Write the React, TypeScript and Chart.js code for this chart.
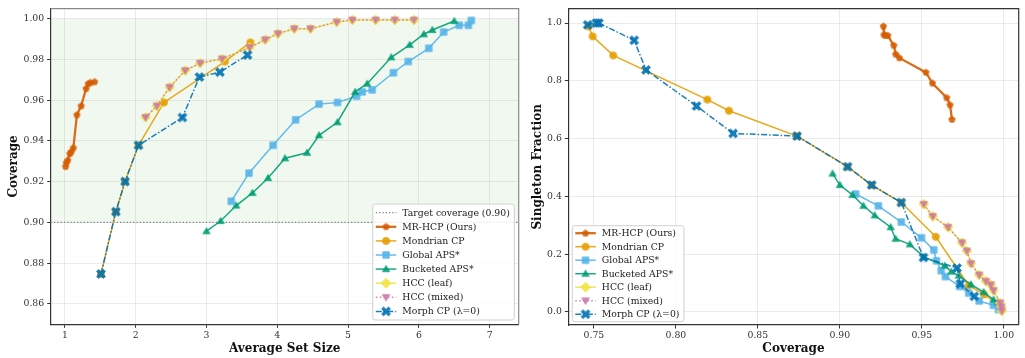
import React, { useEffect, useRef } from "react";
import { Chart, registerables } from "chart.js";
Chart.register(...registerables);

// ---------------- Left panel: Average set size vs coverage ----------------
const L_MRHCP_SIZE = [1.01, 1.02, 1.04, 1.07, 1.09, 1.12, 1.17, 1.23, 1.3, 1.33, 1.36, 1.42];
const L_MRHCP_COV = [0.9274, 0.9293, 0.9305, 0.9337, 0.9347, 0.9366, 0.9528, 0.9572, 0.9657, 0.9681, 0.9686, 0.969];

const L_MOND_SIZE = [1.51, 1.72, 1.85, 2.04, 2.4, 3.26, 3.62];
const L_MOND_COV = [0.8747, 0.9053, 0.9201, 0.9379, 0.9589, 0.979, 0.9884];

const L_GLOBAL_SIZE = [3.35, 3.6, 3.94, 4.26, 4.59, 4.85, 5.12, 5.2, 5.34, 5.64, 5.85, 6.14, 6.35, 6.57, 6.7, 6.74];
const L_GLOBAL_COV = [0.9104, 0.9242, 0.9379, 0.9504, 0.9581, 0.9589, 0.962, 0.9641, 0.9651, 0.9735, 0.979, 0.9855, 0.9935, 0.9968, 0.9968, 0.9992];

const L_BUCK_SIZE = [3.0, 3.2, 3.42, 3.65, 3.87, 4.11, 4.42, 4.59, 4.85, 5.1, 5.27, 5.61, 5.87, 6.07, 6.19, 6.5];
const L_BUCK_COV = [0.8957, 0.9007, 0.9083, 0.9145, 0.9218, 0.9315, 0.9342, 0.9428, 0.9492, 0.9641, 0.9681, 0.9811, 0.9872, 0.9924, 0.9945, 0.9989];

const L_HCCLEAF_SIZE = [2.14, 2.3, 2.48, 2.7, 2.91, 3.22, 3.61, 3.83, 4.01, 4.24, 4.47, 4.84, 5.06, 5.39, 5.66, 5.93];
const L_HCCLEAF_COV = [0.9516, 0.9572, 0.9664, 0.9746, 0.9782, 0.9803, 0.9859, 0.9897, 0.9927, 0.9951, 0.9951, 0.9984, 0.9994, 0.9994, 0.9994, 0.9994];

const L_HCCMIX_SIZE = [2.14, 2.3, 2.48, 2.7, 2.91, 3.22, 3.61, 3.83, 4.01, 4.24, 4.47, 4.84, 5.06, 5.39, 5.66, 5.93];
const L_HCCMIX_COV = [0.9516, 0.9572, 0.9664, 0.9746, 0.9782, 0.9803, 0.9859, 0.9897, 0.9927, 0.9951, 0.9951, 0.9984, 0.9994, 0.9994, 0.9994, 0.9994];

const L_MORPH_SIZE = [1.51, 1.72, 1.85, 2.04, 2.66, 2.9, 3.19, 3.58];
const L_MORPH_COV = [0.8747, 0.9053, 0.9201, 0.9379, 0.9515, 0.9714, 0.9738, 0.9822];

// ---------------- Right panel: coverage vs singleton fraction ----------------
const R_MRHCP_COV = [0.9266, 0.9269, 0.9279, 0.9293, 0.9329, 0.9341, 0.9363, 0.9525, 0.9565, 0.9652, 0.9672, 0.9684];
const R_MRHCP_SING = [0.9887, 0.959, 0.9566, 0.9566, 0.9224, 0.8917, 0.8793, 0.829, 0.7915, 0.7412, 0.7163, 0.666];

const R_MOND_COV = [0.7468, 0.7492, 0.7618, 0.8192, 0.8324, 0.8739, 0.9047, 0.9194, 0.9375, 0.9585, 0.9786, 0.988, 0.997];
const R_MOND_SING = [0.988, 0.9538, 0.8879, 0.735, 0.6964, 0.6085, 0.5026, 0.439, 0.3785, 0.26, 0.0913, 0.0605, 0.022];

const R_GLOBAL_COV = [0.9097, 0.9235, 0.9375, 0.9498, 0.9573, 0.9589, 0.9618, 0.9644, 0.9731, 0.9786, 0.985, 0.9937, 0.9968];
const R_GLOBAL_SING = [0.408, 0.367, 0.311, 0.2564, 0.2144, 0.1768, 0.1426, 0.122, 0.0879, 0.065, 0.0376, 0.0229, 0.008];

const R_BUCK_COV = [0.8956, 0.9, 0.9077, 0.9144, 0.9213, 0.931, 0.934, 0.9427, 0.9512, 0.964, 0.968, 0.9725, 0.98, 0.9877, 0.9937, 0.9965];
const R_BUCK_SING = [0.4786, 0.439, 0.4048, 0.3672, 0.334, 0.293, 0.253, 0.2338, 0.1904, 0.1597, 0.1391, 0.1255, 0.0947, 0.0684, 0.0424, 0.034];

const R_HCCLEAF_COV = [0.9512, 0.9567, 0.966, 0.9745, 0.9775, 0.98, 0.985, 0.9891, 0.9921, 0.9937, 0.9978, 0.9985, 0.9988];
const R_HCCLEAF_SING = [0.3727, 0.3306, 0.293, 0.2393, 0.2109, 0.1675, 0.1279, 0.106, 0.0937, 0.0742, 0.0308, 0.017, 0.003];

const R_HCCMIX_COV = [0.9512, 0.9567, 0.966, 0.9745, 0.9775, 0.98, 0.985, 0.9891, 0.9921, 0.9937, 0.9978, 0.9985, 0.9988];
const R_HCCMIX_SING = [0.3727, 0.3306, 0.293, 0.2393, 0.2109, 0.1675, 0.1279, 0.106, 0.0937, 0.0742, 0.0308, 0.017, 0.003];

const R_MORPH_COV = [0.7462, 0.7515, 0.753, 0.7746, 0.7818, 0.8126, 0.8349, 0.8739, 0.9047, 0.9194, 0.9375, 0.951, 0.9715, 0.9735, 0.982];
const R_MORPH_SING = [0.9938, 1.0, 1.0, 0.9402, 0.8376, 0.7125, 0.6178, 0.6085, 0.5026, 0.439, 0.3785, 0.188, 0.1518, 0.0971, 0.0537];

// ---------------- ticks / labels ----------------
const L_X_TICKS = [1, 2, 3, 4, 5, 6, 7];
const L_Y_TICKS = [0.86, 0.88, 0.9, 0.92, 0.94, 0.96, 0.98, 1.0];
const R_X_TICKS = [0.75, 0.8, 0.85, 0.9, 0.95, 1.0];
const R_Y_TICKS = [0, 0.2, 0.4, 0.6, 0.8, 1.0];
const TARGET_COVERAGE = 0.9;
const TARGET_LABEL = "Target coverage (0.90)";
const SERIES_LABELS = ["MR-HCP (Ours)", "Mondrian CP", "Global APS*", "Bucketed APS*", "HCC (leaf)", "HCC (mixed)", "Morph CP (λ=0)"];

// ---------------- styles ----------------
const STYLES = [
  { color: "#D55E00", shape: "pentagon", size: 6.4, lw: 2.3, dash: [] as number[] },
  { color: "#E69F00", shape: "circle", size: 7.2, lw: 1.5, dash: [] as number[] },
  { color: "#56B4E9", shape: "square", size: 7.2, lw: 1.5, dash: [] as number[] },
  { color: "#009E73", shape: "tri", size: 7.2, lw: 1.5, dash: [] as number[] },
  { color: "#F0E442", shape: "diamond", size: 8.2, lw: 1.5, dash: [] as number[] },
  { color: "#CC79A7", shape: "triDown", size: 7.6, lw: 1.5, dash: [1.5, 2.5] },
  { color: "#0072B2", shape: "x", size: 7.2, lw: 1.5, dash: [6, 2, 1.5, 2] },
];
const FONT = '"DejaVu Serif", "Liberation Serif", serif';
const TICK_SIZE = 9.3;
const LEGEND_SIZE = 9.3;
const TITLE_SIZE = 12;

function rgba(hex: string, a: number) {
  const n = parseInt(hex.slice(1), 16);
  return `rgba(${(n >> 16) & 255},${(n >> 8) & 255},${n & 255},${a})`;
}

function polyPath(ctx: CanvasRenderingContext2D, cx: number, cy: number, r: number, n: number, startDeg: number) {
  for (let k = 0; k < n; k++) {
    const a = ((startDeg + (360 / n) * k) * Math.PI) / 180;
    const x = cx + r * Math.cos(a);
    const y = cy + r * Math.sin(a);
    if (k === 0) ctx.moveTo(x, y);
    else ctx.lineTo(x, y);
  }
  ctx.closePath();
}

function markerPath(ctx: CanvasRenderingContext2D, shape: string, cx: number, cy: number, size: number) {
  const r = size / 2;
  ctx.beginPath();
  switch (shape) {
    case "circle":
      ctx.arc(cx, cy, r, 0, Math.PI * 2);
      break;
    case "square":
      ctx.rect(cx - r * 0.9, cy - r * 0.9, r * 1.8, r * 1.8);
      break;
    case "tri":
      polyPath(ctx, cx, cy + r * 0.15, r * 1.15, 3, -90);
      break;
    case "triDown":
      polyPath(ctx, cx, cy - r * 0.15, r * 1.15, 3, 90);
      break;
    case "diamond":
      polyPath(ctx, cx, cy, r * 1.2, 4, -90);
      break;
    case "pentagon":
      polyPath(ctx, cx, cy, r * 1.05, 5, -90);
      break;
    case "x": {
      const L = r * 1.35, t = r * 0.4;
      const pts = [[-t, -L], [t, -L], [t, -t], [L, -t], [L, t], [t, t], [t, L], [-t, L], [-t, t], [-L, t], [-L, -t], [-t, -t]];
      const c = Math.SQRT1_2;
      pts.forEach(([px, py], k) => {
        const x = cx + (px * c - py * c);
        const y = cy + (px * c + py * c);
        if (k === 0) ctx.moveTo(x, y);
        else ctx.lineTo(x, y);
      });
      ctx.closePath();
      break;
    }
  }
}

function makeMarker(shape: string, size: number, color: string): HTMLCanvasElement {
  const s = Math.ceil(size * 1.6 + 4);
  const c = document.createElement("canvas");
  c.width = s;
  c.height = s;
  const ctx = c.getContext("2d")!;
  ctx.globalAlpha = 0.9;
  ctx.fillStyle = color;
  ctx.strokeStyle = color;
  ctx.lineWidth = 0.8;
  markerPath(ctx, shape, s / 2, s / 2, size);
  ctx.fill();
  ctx.stroke();
  return c;
}

function makeDatasets(xs: number[][], ys: number[][], markers: HTMLCanvasElement[]) {
  return xs.map((xArr, i) => ({
    label: SERIES_LABELS[i],
    data: xArr.map((x, j) => ({ x, y: ys[i][j] })),
    borderColor: rgba(STYLES[i].color, 0.9),
    backgroundColor: rgba(STYLES[i].color, 0.9),
    borderWidth: STYLES[i].lw,
    borderDash: STYLES[i].dash,
    pointStyle: markers[i],
    pointRadius: 4,
    pointHoverRadius: 4,
    tension: 0,
    showLine: true,
    fill: false,
    order: 100 - i,
  }));
}

type PanelCfg = {
  xTicks: number[];
  yTicks: number[];
  xFmt: (v: number) => string;
  yFmt: (v: number) => string;
  xMin: number; xMax: number; yMin: number; yMax: number;
  yAxisWidth: number; xAxisHeight: number;
  padTop: number; padRight: number;
  xTitle: string; yTitle: string; yTitleX: number;
  band: boolean;
  legend: { corner: "br" | "bl"; dx: number; dy: number; rowH: number; padY: number; showTarget: boolean };
  topRightColor: string;
};

function panelPlugin(cfg: PanelCfg, markers: HTMLCanvasElement[]) {
  return {
    id: "panelDecor",
    beforeDraw(chart: any) {
      if (!cfg.band) return;
      const { ctx, chartArea: a, scales } = chart;
      const y1 = scales.y.getPixelForValue(1.0);
      const y0 = scales.y.getPixelForValue(TARGET_COVERAGE);
      ctx.save();
      ctx.fillStyle = "rgba(60,160,60,0.075)";
      ctx.fillRect(a.left, y1, a.right - a.left, y0 - y1);
      ctx.restore();
    },
    beforeDatasetsDraw(chart: any) {
      if (!cfg.legend.showTarget) return;
      const { ctx, chartArea: a, scales } = chart;
      const y = scales.y.getPixelForValue(TARGET_COVERAGE);
      ctx.save();
      ctx.strokeStyle = "#808080";
      ctx.lineWidth = 1.2;
      ctx.setLineDash([1.3, 2]);
      ctx.beginPath();
      ctx.moveTo(a.left, y);
      ctx.lineTo(a.right, y);
      ctx.stroke();
      ctx.restore();
    },
    afterDraw(chart: any) {
      const { ctx, chartArea: a } = chart;
      ctx.save();
      // top/right spines
      ctx.strokeStyle = cfg.topRightColor;
      ctx.lineWidth = 1.2;
      ctx.beginPath();
      ctx.moveTo(a.left, a.top);
      ctx.lineTo(a.right, a.top);
      ctx.lineTo(a.right, a.bottom);
      ctx.stroke();
      // axis titles
      ctx.fillStyle = "#111";
      ctx.font = `bold ${TITLE_SIZE}px ${FONT}`;
      ctx.textAlign = "center";
      ctx.textBaseline = "middle";
      ctx.fillText(cfg.xTitle, (a.left + a.right) / 2, 349);
      ctx.save();
      ctx.translate(cfg.yTitleX, (a.top + a.bottom) / 2);
      ctx.rotate(-Math.PI / 2);
      ctx.fillText(cfg.yTitle, 0, 0);
      ctx.restore();

      // legend
      const lg = cfg.legend;
      ctx.font = `${LEGEND_SIZE}px ${FONT}`;
      const items: { label: string; idx: number }[] = [];
      if (lg.showTarget) items.push({ label: TARGET_LABEL, idx: -1 });
      SERIES_LABELS.forEach((l, i) => items.push({ label: l, idx: i }));
      let maxW = 0;
      items.forEach((it) => (maxW = Math.max(maxW, ctx.measureText(it.label).width)));
      const w = 29 + maxW + 5;
      const h = lg.padY * 2 + (items.length - 1) * lg.rowH;
      const bx = lg.corner === "br" ? a.right - lg.dx - w : a.left + lg.dx;
      const by = a.bottom - lg.dy - h;
      ctx.beginPath();
      const rr = 2.5;
      ctx.moveTo(bx + rr, by);
      ctx.arcTo(bx + w, by, bx + w, by + h, rr);
      ctx.arcTo(bx + w, by + h, bx, by + h, rr);
      ctx.arcTo(bx, by + h, bx, by, rr);
      ctx.arcTo(bx, by, bx + w, by, rr);
      ctx.closePath();
      ctx.fillStyle = "rgba(255,255,255,0.85)";
      ctx.fill();
      ctx.strokeStyle = "#d0d0d0";
      ctx.lineWidth = 1;
      ctx.stroke();
      items.forEach((it, k) => {
        const yy = by + lg.padY + k * lg.rowH;
        const x1 = bx + 3, x2 = bx + 23.5;
        ctx.save();
        if (it.idx < 0) {
          ctx.strokeStyle = "#808080";
          ctx.lineWidth = 1.2;
          ctx.setLineDash([1.3, 2]);
        } else {
          const st = STYLES[it.idx];
          ctx.strokeStyle = rgba(st.color, 0.9);
          ctx.lineWidth = st.lw;
          ctx.setLineDash(st.dash);
        }
        ctx.beginPath();
        ctx.moveTo(x1, yy);
        ctx.lineTo(x2, yy);
        ctx.stroke();
        ctx.restore();
        if (it.idx >= 0) {
          const m = markers[it.idx];
          ctx.drawImage(m, (x1 + x2) / 2 - m.width / 2, yy - m.height / 2);
        }
        ctx.fillStyle = "#222";
        ctx.textAlign = "left";
        ctx.textBaseline = "middle";
        ctx.fillText(it.label, bx + 29.5, yy + 0.5);
      });
      ctx.restore();
    },
  };
}

function buildConfig(cfg: PanelCfg, xs: number[][], ys: number[][]) {
  const markers = STYLES.map((s) => makeMarker(s.shape, s.size, s.color));
  const gridBase = {
    color: "rgba(0,0,0,0.1)",
    lineWidth: 0.8,
    borderDash: [3, 2],
    drawTicks: true,
    tickLength: 3.5,
    tickColor: "#333",
    tickWidth: 1,
    tickBorderDash: [] as number[],
  };
  const tickFont = { family: FONT, size: TICK_SIZE };
  return {
    type: "line" as const,
    data: { datasets: makeDatasets(xs, ys, markers) as any },
    options: {
      responsive: false,
      maintainAspectRatio: false,
      devicePixelRatio: 1,
      animation: false as const,
      layout: { padding: { left: 0, top: cfg.padTop, right: cfg.padRight, bottom: 0 } },
      plugins: { legend: { display: false }, tooltip: { enabled: false }, title: { display: false } },
      events: [] as any[],
      scales: {
        x: {
          type: "linear" as const,
          min: cfg.xMin,
          max: cfg.xMax,
          grid: gridBase,
          border: { display: true, color: "#333", width: 1.2 },
          ticks: { font: tickFont, color: "#333", padding: 2, maxRotation: 0, callback: (v: any) => cfg.xFmt(Number(v)) },
          afterBuildTicks: (axis: any) => { axis.ticks = cfg.xTicks.map((v) => ({ value: v })); },
          afterFit: (s: any) => { s.height = cfg.xAxisHeight; },
        },
        y: {
          type: "linear" as const,
          min: cfg.yMin,
          max: cfg.yMax,
          grid: gridBase,
          border: { display: true, color: "#333", width: 1.2 },
          ticks: { font: tickFont, color: "#333", padding: 3, callback: (v: any) => cfg.yFmt(Number(v)) },
          afterBuildTicks: (axis: any) => { axis.ticks = cfg.yTicks.map((v) => ({ value: v })); },
          afterFit: (s: any) => { s.width = cfg.yAxisWidth; },
        },
      },
    },
    plugins: [panelPlugin(cfg, markers)],
  };
}

export default function App() {
  const leftRef = useRef<HTMLCanvasElement>(null);
  const rightRef = useRef<HTMLCanvasElement>(null);

  useEffect(() => {
    const leftCfg: PanelCfg = {
      xTicks: L_X_TICKS, yTicks: L_Y_TICKS,
      xFmt: (v) => String(v), yFmt: (v) => v.toFixed(2),
      xMin: 0.8, xMax: 7.41, yMin: 0.85, yMax: 1.005,
      yAxisWidth: 50.7, xAxisHeight: 358 - 324.3,
      padTop: 5.7, padRight: 525 - 521.7,
      xTitle: "Average Set Size", yTitle: "Coverage", yTitleX: 14,
      band: true,
      legend: { corner: "br", dx: 4.4, dy: 4.3, rowH: 14.1, padY: 8.6, showTarget: true },
      topRightColor: "#8a8a8a",
    };
    const rightCfg: PanelCfg = {
      xTicks: R_X_TICKS, yTicks: R_Y_TICKS,
      xFmt: (v) => v.toFixed(2), yFmt: (v) => v.toFixed(1),
      xMin: 0.7344, xMax: 1.0091, yMin: -0.0455, yMax: 1.05,
      yAxisWidth: 568.3 - 525, xAxisHeight: 358 - 325,
      padTop: 4.3, padRight: 500 - 497,
      xTitle: "Coverage", yTitle: "Singleton Fraction", yTitleX: 13,
      band: false,
      legend: { corner: "bl", dx: 4, dy: 3.3, rowH: 13.5, padY: 7.5, showTarget: false },
      topRightColor: "#333",
    };
    const left = new Chart(
      leftRef.current!,
      buildConfig(
        leftCfg,
        [L_MRHCP_SIZE, L_MOND_SIZE, L_GLOBAL_SIZE, L_BUCK_SIZE, L_HCCLEAF_SIZE, L_HCCMIX_SIZE, L_MORPH_SIZE],
        [L_MRHCP_COV, L_MOND_COV, L_GLOBAL_COV, L_BUCK_COV, L_HCCLEAF_COV, L_HCCMIX_COV, L_MORPH_COV]
      ) as any
    );
    const right = new Chart(
      rightRef.current!,
      buildConfig(
        rightCfg,
        [R_MRHCP_COV, R_MOND_COV, R_GLOBAL_COV, R_BUCK_COV, R_HCCLEAF_COV, R_HCCMIX_COV, R_MORPH_COV],
        [R_MRHCP_SING, R_MOND_SING, R_GLOBAL_SING, R_BUCK_SING, R_HCCLEAF_SING, R_HCCMIX_SING, R_MORPH_SING]
      ) as any
    );
    return () => {
      left.destroy();
      right.destroy();
    };
  }, []);

  return (
    <div style={{ position: "fixed", left: 0, top: 0, width: 1025, height: 358, background: "#fff" }}>
      <canvas ref={leftRef} width={525} height={358} style={{ position: "absolute", left: 0, top: 0, width: 525, height: 358 }} />
      <canvas ref={rightRef} width={500} height={358} style={{ position: "absolute", left: 525, top: 0, width: 500, height: 358 }} />
    </div>
  );
}
